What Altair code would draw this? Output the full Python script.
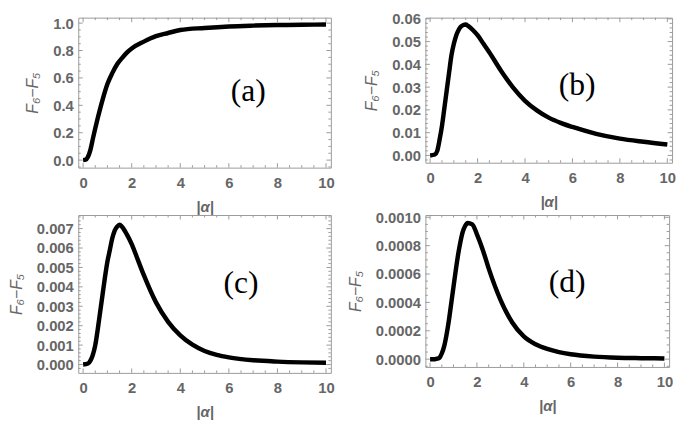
import altair as alt
import pandas as pd

# ---------------- data ----------------
x_a = [0, 0.1, 0.2, 0.3, 0.4, 0.5, 0.6, 0.8, 1.0, 1.2, 1.4, 1.6, 1.8, 2.0, 2.5, 3, 3.5, 4, 5, 6, 7, 8, 9, 10]
y_a = [0, 0.003, 0.025, 0.075, 0.155, 0.232, 0.305, 0.44, 0.555, 0.635, 0.70, 0.745, 0.785, 0.815, 0.865, 0.905, 0.928, 0.95, 0.965, 0.976, 0.982, 0.986, 0.988, 0.99]

x_bcd = [0, 0.2, 0.3, 0.4, 0.5, 0.6, 0.7, 0.8, 0.9, 1.0, 1.1, 1.2, 1.3, 1.4, 1.5, 1.6, 1.8, 2.0, 2.25, 2.5, 3, 3.5, 4, 4.5, 5, 5.5, 6, 7, 8, 9, 10]
y_b = [0, 0.0004, 0.002, 0.007, 0.013, 0.0207, 0.0286, 0.0364, 0.044, 0.049, 0.0527, 0.0551, 0.0566, 0.0573, 0.0575, 0.0569,
       0.0551, 0.0528, 0.049, 0.0452, 0.037, 0.0298, 0.0240, 0.0198, 0.0166, 0.0143, 0.0125, 0.0095, 0.0074, 0.006, 0.0048]
y_c = [0, 0.00005, 0.0002, 0.0005, 0.001, 0.0018, 0.0027, 0.0036, 0.0045, 0.0053, 0.0059, 0.0065, 0.0069, 0.0071, 0.0072, 0.0071,
       0.0067, 0.0062, 0.0054, 0.0046, 0.0032, 0.0022, 0.0015, 0.00102, 0.0007, 0.0005, 0.00037, 0.00022, 0.00015, 0.00011, 0.00009]
y_d = [0, 0, 0.000003, 0.00001, 0.00004, 0.00009, 0.00017, 0.00027, 0.00039, 0.00051, 0.00063, 0.00074, 0.00083, 0.0009, 0.00094, 0.00096,
       0.00095, 0.00088, 0.00077, 0.00064, 0.00042, 0.00026, 0.00016, 0.000105, 0.000072, 0.00005, 0.000035, 0.000018, 0.00001, 0.000007, 0.000005]

panel_labels = ["(a)", "(b)", "(c)", "(d)"]
label_x = [6.8, 6.2, 6.5, 5.85]
label_y = [0.5, 0.0308, 0.00417, 0.00054]

x_major = [0, 2, 4, 6, 8, 10]
x_minor = [k * 0.5 for k in range(0, 21) if k % 4 != 0]

y_major_a = [0, 0.2, 0.4, 0.6, 0.8, 1.0]
y_minor_a = [round(k * 0.05, 4) for k in range(-1, 21) if k % 4 != 0]
y_major_b = [0, 0.01, 0.02, 0.03, 0.04, 0.05, 0.06]
y_minor_b = [round(k * 0.002, 5) for k in range(-1, 31) if k % 5 != 0]
y_major_c = [0, 0.001, 0.002, 0.003, 0.004, 0.005, 0.006, 0.007]
y_minor_c = [round(k * 0.0002, 6) for k in range(-1, 39) if k % 5 != 0]
y_major_d = [0, 0.0002, 0.0004, 0.0006, 0.0008, 0.001]
y_minor_d = [round(k * 0.00005, 7) for k in range(-1, 21) if k % 4 != 0]

GRAY = "#666666"
FRAME = "#9a9a9a"
SANS = "Liberation Sans"


def panel(xs, ys, W, H, ydom, ymaj, ymin, fmt, idx):
    xsc = alt.Scale(domain=[-0.2, 10.2], nice=False, zero=False)
    ysc = alt.Scale(domain=ydom, nice=False, zero=False)
    xax = alt.Axis(
        values=x_major, format="d", ticks=False, domain=False, grid=False, labelFlush=False,
        labelPadding=8, labelFont=SANS, labelFontSize=15, labelFontWeight="bold", labelColor=GRAY,
        title="|α|", titleFont=SANS, titleFontSize=15, titleFontWeight="bold", titleFontStyle="italic",
        titleColor=GRAY, titlePadding=9)
    yax = alt.Axis(
        values=ymaj, format=fmt, ticks=False, domain=False, grid=False, labelFlush=False,
        labelPadding=5, labelFont=SANS, labelFontSize=15, labelFontWeight="bold", labelColor=GRAY,
        title="F₆−F₅", titleFont=SANS, titleFontSize=16, titleFontWeight="normal", titleFontStyle="italic",
        titleColor=GRAY, titlePadding=12)

    df = pd.DataFrame({"x": xs, "y": ys})
    line = alt.Chart(df).mark_line(color="black", strokeWidth=4.5, interpolate="monotone", strokeCap="butt").encode(
        x=alt.X("x:Q", scale=xsc, axis=xax),
        y=alt.Y("y:Q", scale=ysc, axis=yax),
    )
    lab = alt.Chart(pd.DataFrame({"x": [label_x[idx]], "y": [label_y[idx]], "t": [panel_labels[idx]]})).mark_text(
        font="Liberation Serif", fontSize=32, color="black", align="center", baseline="middle").encode(
        x=alt.X("x:Q", scale=xsc, axis=xax), y=alt.Y("y:Q", scale=ysc, axis=yax), text="t:N")

    layers = [line, lab]
    for vals, ln in ((x_major, 4.5), (x_minor, 2.5)):
        d = pd.DataFrame({"x": vals})
        for y0, y1 in ((H, H - ln), (0, ln)):
            layers.append(alt.Chart(d).mark_rule(color=FRAME, strokeWidth=1).encode(
                x=alt.X("x:Q", scale=xsc, axis=xax), y=alt.value(y0), y2=alt.value(y1)))
    for vals, ln in ((ymaj, 4.5), (ymin, 2.5)):
        d = pd.DataFrame({"y": vals})
        for x0, x1 in ((0, ln), (W, W - ln)):
            layers.append(alt.Chart(d).mark_rule(color=FRAME, strokeWidth=1).encode(
                y=alt.Y("y:Q", scale=ysc, axis=yax), x=alt.value(x0), x2=alt.value(x1)))
    return alt.layer(*layers).properties(width=W, height=H)


pa = panel(x_a, y_a, 256, 152, [-0.055, 1.04], y_major_a, y_minor_a, ".1f", 0)
pb = panel(x_bcd, y_b, 250, 147, [-0.0032, 0.0605], y_major_b, y_minor_b, ".2f", 1)
pc = panel(x_bcd, y_c, 256, 160, [-0.00043, 0.0077], y_major_c, y_minor_c, ".3f", 2)
pd_ = panel(x_bcd, y_d, 247, 154, [-0.000055, 0.001016], y_major_d, y_minor_d, ".4f", 3)

chart = alt.concat(pa, pb, pc, pd_, columns=2, spacing={"row": -7, "column": 11},
                   center={"row": False, "column": True}).properties(
    padding=0
).configure_view(stroke=FRAME, strokeWidth=1)

chart.save("out.html", embed_options={"renderer": "svg", "actions": False})
